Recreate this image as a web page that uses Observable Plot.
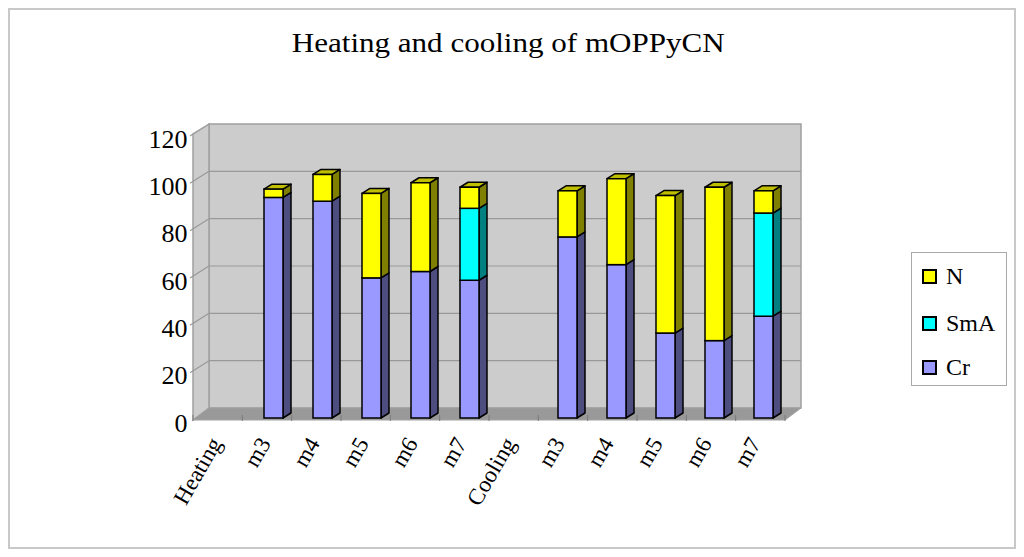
<!DOCTYPE html>
<html>
<head>
<meta charset="utf-8">
<script src="https://cdn.jsdelivr.net/npm/d3@7"></script>
<script src="https://cdn.jsdelivr.net/npm/@observablehq/plot@0.6"></script>
<style>
  body { margin: 0; background: #fff; }
  #chart { position: relative; width: 1024px; height: 557px; overflow: hidden;
           font-family: "Liberation Serif", "Times New Roman", serif; color: #000; }
  #frame { position: absolute; left: 8px; top: 8px; width: 1004px; height: 537px;
           border: 2px solid #c8c8c8; }
  #title { position: absolute; left: 0; width: 1016px; top: 30px; text-align: center;
           font-size: 27px; line-height: 27px; white-space: nowrap; }
  #title span { display: inline-block; transform: scaleX(1.15); transform-origin: center; }
  #plot { position: absolute; left: 0; top: 0; }
  #legend { position: absolute; left: 911px; top: 252px; width: 94px; height: 132px;
            border: 1px solid #aaaaaa; background: #fff; }
  .sw { position: absolute; left: 10px; width: 15px; height: 15px; box-sizing: border-box;
        border: 2px solid #000; }
  .lb { position: absolute; left: 34px; font-size: 24px; line-height: 24px; white-space: nowrap; }
</style>
</head>
<body>
<div id="chart">
  <div id="frame"></div>
  <div id="title"><span>Heating and cooling of mOPPyCN</span></div>
  <div id="plot"></div>
  <div id="legend"></div>
</div>
<script>
// ---- data ----
const categories = ["Heating", "m3", "m4", "m5", "m6", "m7", "Cooling", "m3", "m4", "m5", "m6", "m7"];
const seriesNames = ["Cr", "SmA", "N"];
const crValues  = [null, 93.2, 91.6, 59.2, 61.9, 58.2, null, 76.5, 64.8, 35.9, 32.7, 43.0];
const smaValues = [null, 0,    0,    0,    0,    30.4, null, 0,    0,    0,    0,    43.6];
const nValues   = [null, 3.5,  11.3, 35.7, 37.5, 8.9,  null, 19.5, 36.3, 58.1, 64.8, 9.4];
const yTicks = [0, 20, 40, 60, 80, 100, 120];
const legendOrder = ["N", "SmA", "Cr"];
const frontColors = {Cr: "#9999ff", SmA: "#00ffff", N: "#ffff00"};
const sideColors  = {Cr: "#4d4d80", SmA: "#008080", N: "#808000"};
const topColors   = {Cr: "#7373bf", SmA: "#00bfbf", N: "#bfbf00"};

// ---- table built from the arrays ----
const valuesBySeries = {Cr: crValues, SmA: smaValues, N: nValues};
const idx = categories.map((_, i) => i);
const table = [];
for (const i of idx) {
  let acc = 0;
  const rows = [];
  for (const s of seriesNames) {
    const v = valuesBySeries[s][i];
    if (v == null || v <= 0) continue;
    rows.push({i, series: s, y1: acc, y2: acc + v, top: false});
    acc += v;
  }
  if (rows.length) rows[rows.length - 1].top = true;
  table.push(...rows);
}

const DX = 16, DY = -10;      // depth of the chart box
const BX = 8, BY = -5;        // depth of each bar
const INSET_L = 20, INSET_R = 10;

function pts(a) { return a.map(p => p.join(",")).join(" "); }

function walls(index, scales, values, dimensions) {
  const ys = scales.y;
  const {width, marginLeft, marginRight} = dimensions;
  const x0 = marginLeft, x1 = width - marginRight;
  const yb = ys(0), yt = ys(120);
  const g = d3.create("svg:g");
  // back wall
  g.append("polygon").attr("points", pts([[x0 + DX, yt + DY], [x1 + DX, yt + DY], [x1 + DX, yb + DY], [x0 + DX, yb + DY]]))
    .attr("fill", "#cccccc").attr("stroke", "#a0a0a0").attr("stroke-width", 1.5);
  // left wall
  g.append("polygon").attr("points", pts([[x0, yt], [x0 + DX, yt + DY], [x0 + DX, yb + DY], [x0, yb + 2]]))
    .attr("fill", "#cccccc").attr("stroke", "#a0a0a0").attr("stroke-width", 1.5);
  // gridlines
  for (const v of yTicks) {
    if (v === 0 || v === 120) continue;
    const y = ys(v);
    g.append("line").attr("x1", x0 + DX).attr("x2", x1 + DX).attr("y1", y + DY).attr("y2", y + DY)
      .attr("stroke", "#999999").attr("stroke-width", 1.2);
    g.append("line").attr("x1", x0 - 3).attr("x2", x0 + DX).attr("y1", y + 2).attr("y2", y + DY)
      .attr("stroke", "#999999").attr("stroke-width", 1.2);
  }
  g.append("line").attr("x1", x0 - 3).attr("x2", x0).attr("y1", yt + 2).attr("y2", yt)
    .attr("stroke", "#999999").attr("stroke-width", 1.2);
  // floor
  g.append("polygon").attr("points", pts([[x0, yb + 2], [x1, yb + 2], [x1 + DX, yb + DY], [x0 + DX, yb + DY]]))
    .attr("fill", "#999999").attr("stroke", "#a0a0a0").attr("stroke-width", 1);
  const step = (x1 - x0) / categories.length;
  for (let k = 0; k <= categories.length; k++) {
    const x = x0 + k * step;
    g.append("line").attr("x1", x).attr("x2", x).attr("y1", yb - 3).attr("y2", yb + 3)
      .attr("stroke", "#7a7a7a").attr("stroke-width", 1);
  }
  return g.node();
}

function barDepth(index, scales) {
  const xs = scales.x, ys = scales.y;
  const bw = typeof xs.bandwidth === "function" ? xs.bandwidth() : 49.33;
  const g = d3.create("svg:g").attr("stroke", "#000").attr("stroke-width", 1.5).attr("stroke-linejoin", "round");
  for (const r of table) {
    const xl = xs(r.i) + INSET_L, xr = xs(r.i) + bw - INSET_R;
    const ya = ys(r.y2), yb = ys(r.y1);
    g.append("polygon").attr("points", pts([[xr, ya], [xr + BX, ya + BY], [xr + BX, yb + BY], [xr, yb]]))
      .attr("fill", sideColors[r.series]);
    if (r.top) {
      g.append("polygon").attr("points", pts([[xl, ya], [xl + BX, ya + BY], [xr + BX, ya + BY], [xr, ya]]))
        .attr("fill", topColors[r.series]);
    }
  }
  return g.node();
}

const chart = Plot.plot({
  width: 1024,
  height: 557,
  marginTop: 134,
  marginBottom: 139,
  marginLeft: 193,
  marginRight: 239,
  style: {background: "transparent", fontFamily: "'Liberation Serif', 'Times New Roman', serif", color: "#000", overflow: "visible"},
  x: {type: "band", domain: idx, padding: 0, axis: null},
  y: {domain: [0, 120], axis: null},
  color: {domain: legendOrder, range: legendOrder.map(s => frontColors[s])},
  marks: [
    walls,
    barDepth,
    Plot.barY(table, {x: "i", y1: "y1", y2: "y2", fill: "series", stroke: "#000", strokeWidth: 1.5,
                      insetLeft: INSET_L, insetRight: INSET_R}),
    Plot.text(yTicks, {y: d => d, text: d => String(d), frameAnchor: "left", textAnchor: "end",
                       dx: -6, dy: 5, fontSize: 26, fill: "#000"}),
    Plot.text(idx, {x: d => d, text: d => categories[d], frameAnchor: "bottom", textAnchor: "end",
                    lineAnchor: "middle", rotate: -60, dx: -4, dy: 21, fontSize: 23, fill: "#000"})
  ]
});
document.getElementById("plot").appendChild(chart);

// legend
const legend = document.getElementById("legend");
const legendY = [23, 70, 114];
legendOrder.forEach((s, k) => {
  const sw = document.createElement("div");
  sw.className = "sw";
  sw.style.top = (legendY[k] - 7) + "px";
  sw.style.background = frontColors[s];
  legend.appendChild(sw);
  const lb = document.createElement("div");
  lb.className = "lb";
  lb.style.top = (legendY[k] - 12) + "px";
  lb.textContent = s;
  legend.appendChild(lb);
});
</script>
</body>
</html>
